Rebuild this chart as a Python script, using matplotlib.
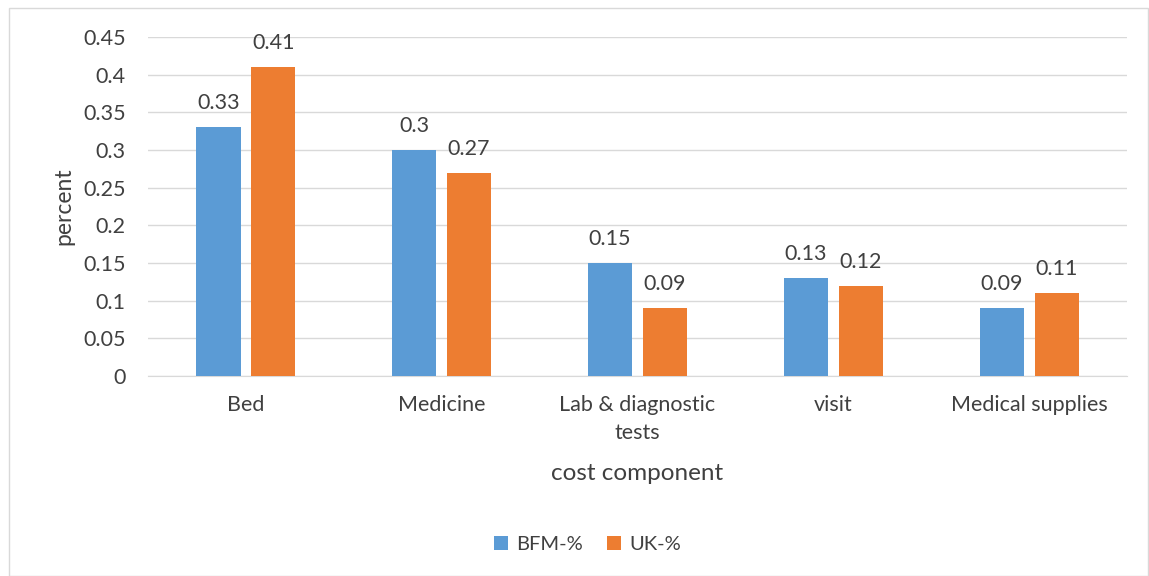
import matplotlib
matplotlib.use("Agg")
import matplotlib.pyplot as plt
import numpy as np
from matplotlib.patches import Rectangle

categories = ["Bed", "Medicine", "Lab & diagnostic\ntests", "visit", "Medical supplies"]
bfm = [0.33, 0.30, 0.15, 0.13, 0.09]
uk = [0.41, 0.27, 0.09, 0.12, 0.11]
series_names = ["BFM-%", "UK-%"]
yticks = [0, 0.05, 0.1, 0.15, 0.2, 0.25, 0.3, 0.35, 0.4, 0.45]
ytick_labels = ["0", "0.05", "0.1", "0.15", "0.2", "0.25", "0.3", "0.35", "0.4", "0.45"]

plt.rcParams['font.family'] = ['Lato', 'DejaVu Sans']
blue = "#5B9BD5"
orange = "#ED7D31"
txt = "#404040"

fig = plt.figure(figsize=(11.49, 5.76), dpi=100)
ax = fig.add_axes([0.1288, 0.3472, 0.8521, 0.5886])

x = np.arange(len(categories))
w = 0.225
off = 0.14
b1 = ax.bar(x - off, bfm, w, color=blue, zorder=3, label=series_names[0])
b2 = ax.bar(x + off, uk, w, color=orange, zorder=3, label=series_names[1])
for bars, vals in ((b1, bfm), (b2, uk)):
    for r, v in zip(bars, vals):
        ax.annotate(f"{v:g}", (r.get_x() + r.get_width() / 2, v), xytext=(0, 10),
                    textcoords="offset points", ha="center", va="bottom",
                    fontsize=15.5, color=txt)

ax.set_xlim(-0.5, len(categories) - 0.5)
ax.set_ylim(0, 0.45)
ax.set_yticks(yticks)
ax.set_yticklabels(ytick_labels, fontsize=15.5, color=txt)
ax.set_xticks(x)
ax.set_xticklabels(categories, fontsize=15.5, color=txt, linespacing=1.5)
ax.tick_params(axis="x", length=0, pad=14)
ax.tick_params(axis="y", length=0, pad=16)
ax.grid(axis="y", color="#D9D9D9", linewidth=1, zorder=0)
for s in ["top", "right", "left"]:
    ax.spines[s].set_visible(False)
ax.spines["bottom"].set_color("#D9D9D9")
ax.set_xlabel("cost component", fontsize=17.5, color=txt, labelpad=14)
ax.set_ylabel("percent", fontsize=16.5, color=txt, labelpad=6)

leg = fig.legend(handles=[b1, b2], labels=series_names, loc="center",
                 bbox_to_anchor=(0.511, 0.054), ncol=2, frameon=False,
                 fontsize=14.5, handlelength=0.7, handleheight=0.7,
                 columnspacing=1.2, handletextpad=0.4)
for t in leg.get_texts():
    t.set_color(txt)

fig.patches.append(Rectangle((0.008, 0.0), 0.991, 0.986, transform=fig.transFigure,
                             fill=False, edgecolor="#D9D9D9", linewidth=1))

fig.savefig("out.png", dpi=100)
